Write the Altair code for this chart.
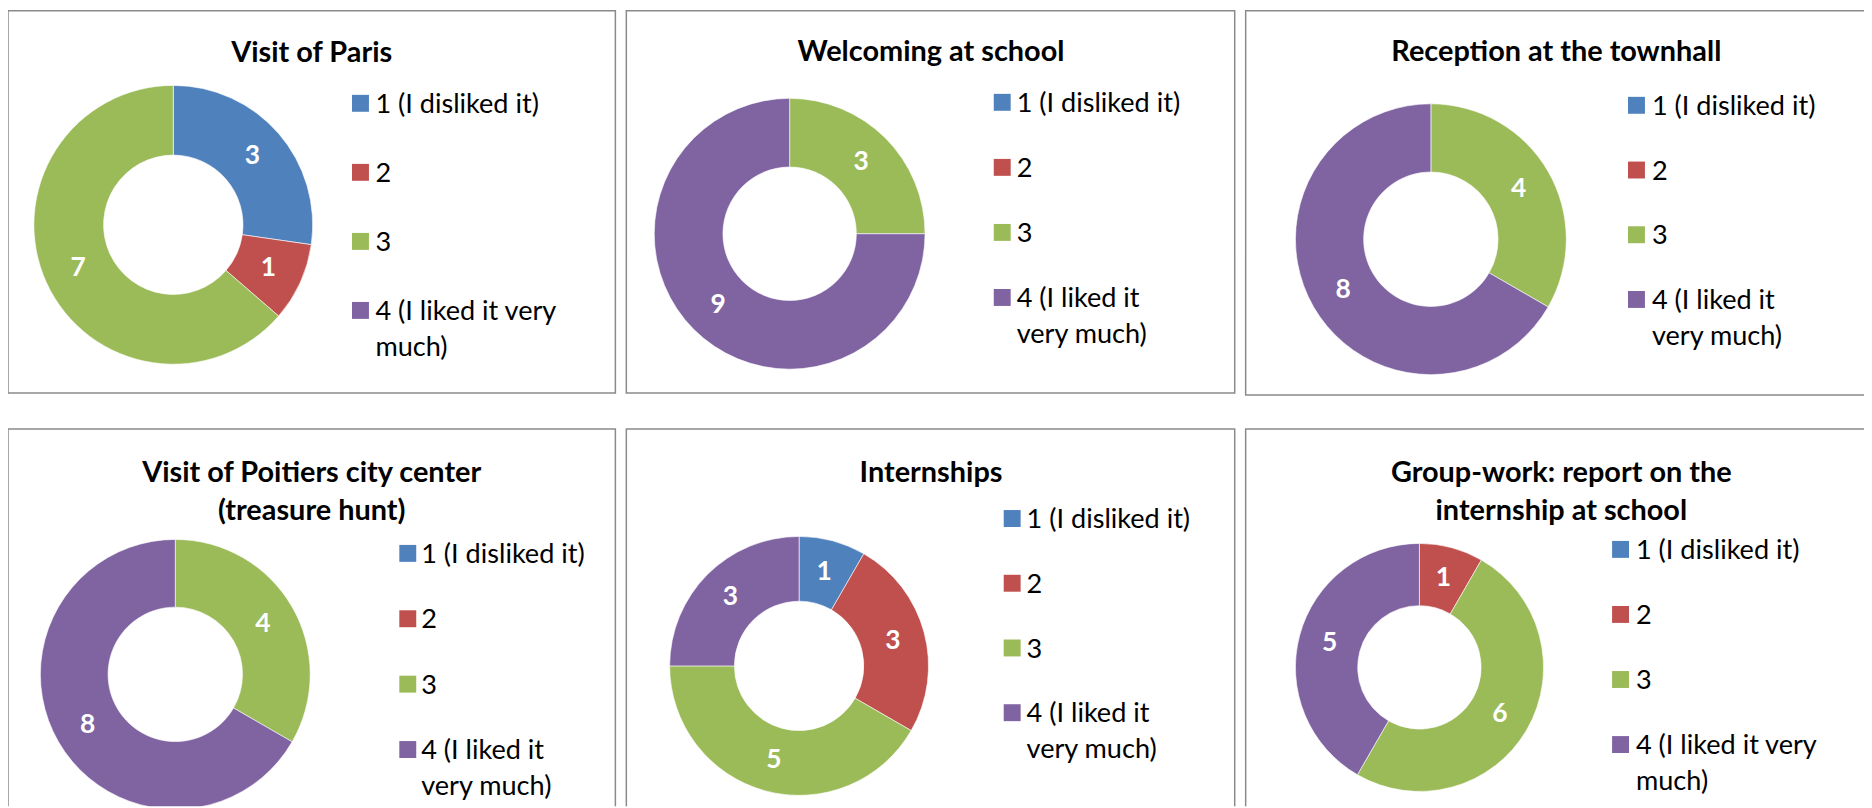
import altair as alt
import pandas as pd

# ---------------- data ----------------
categories = ["1 (I disliked it)", "2", "3", "4 (I liked it very much)"]
colors = ["#4F81BD", "#C0504D", "#9BBB59", "#8064A2"]

panel_titles = [
    "Visit of Paris",
    "Welcoming at school",
    "Reception at the townhall",
    "Visit of Poitiers city center\n(treasure hunt)",
    "Internships",
    "Group-work: report on the\ninternship at school",
]

visit_of_paris = [3, 1, 7, 0]
welcoming_at_school = [0, 0, 3, 9]
reception_at_townhall = [0, 0, 4, 8]
visit_of_poitiers = [0, 0, 4, 8]
internships = [1, 3, 5, 3]
group_work_report = [0, 1, 6, 5]

panel_values = [visit_of_paris, welcoming_at_school, reception_at_townhall,
                visit_of_poitiers, internships, group_work_report]

legend_wrap_wide = ["1 (I disliked it)", "2", "3", "4 (I liked it very\nmuch)"]
legend_wrap_narrow = ["1 (I disliked it)", "2", "3", "4 (I liked it\nvery much)"]

# ---------------- layout (pixels, chart coordinates) ----------------
layouts = [
    dict(box=(0, 610, 1, 385), c=(166, 216), R=140, r=70, sq=354, tx=369, ly=(94, 302), tt=(305, 42), legend=legend_wrap_wide),
    dict(box=(621, 1232, 1, 385), c=(785, 225), R=136, r=67, sq=998.5, tx=1013, ly=(93, 289), tt=(927, 41), legend=legend_wrap_narrow),
    dict(box=(1243, 1950, 1, 387), c=(1429, 230.5), R=136, r=67.5, sq=1635.5, tx=1651, ly=(96, 291), tt=(1555, 41), legend=legend_wrap_narrow),
    dict(box=(0, 610, 421, 950), c=(168, 667.5), R=135.5, r=67.5, sq=401.5, tx=415, ly=(546, 743), tt=(305, 464), legend=legend_wrap_narrow),
    dict(box=(621, 1232, 421, 950), c=(794.5, 659), R=130, r=65, sq=1008.5, tx=1023, ly=(511, 706), tt=(927, 464), legend=legend_wrap_narrow),
    dict(box=(1243, 1950, 421, 950), c=(1417.5, 660.5), R=124.5, r=62, sq=1619.5, tx=1635, ly=(542, 738), tt=(1560, 464), legend=legend_wrap_wide),
]

FONT = "Lato"
color_enc = alt.Color("category:N", scale=alt.Scale(domain=categories, range=colors), legend=None)


def panel(i, lay):
    df = pd.DataFrame({
        "category": categories,
        "idx": list(range(len(categories))),
        "value": panel_values[i],
        "legend": lay["legend"],
    })
    tdf = pd.DataFrame({"title": [panel_titles[i]]})
    cx, cy = lay["c"]
    R, r = lay["R"], lay["r"]
    x0, x1, y0, y1 = lay["box"]

    border = alt.Chart(tdf).mark_rect(
        fillOpacity=0, stroke="#8a8a8a", strokeWidth=1.5, clip=True
    ).encode(x=alt.value(x0), x2=alt.value(x1), y=alt.value(y0), y2=alt.value(y1))

    base = alt.Chart(df).transform_filter("datum.value > 0").encode(
        theta=alt.Theta("value:Q", stack=True),
        order=alt.Order("idx:Q"),
    )
    arcs = base.mark_arc(outerRadius=R, innerRadius=r, stroke="white", strokeWidth=0.6, clip=True).encode(
        x=alt.value(cx), y=alt.value(cy), color=color_enc
    )
    labels = base.mark_text(radius=(R + r) / 2, font=FONT, fontWeight="bold", fontSize=26.5,
                            color="white", baseline="middle").encode(
        x=alt.value(cx), y=alt.value(cy), text=alt.Text("value:Q")
    )

    ysc = alt.Scale(domain=[0, len(categories) - 1], range=list(lay["ly"]))
    squares = alt.Chart(df).mark_square(size=289, opacity=1).encode(
        x=alt.value(lay["sq"]), y=alt.Y("idx:Q", scale=ysc, axis=None), color=color_enc
    )
    leg_text = alt.Chart(df).mark_text(
        align="left", baseline="alphabetic", dy=9.6, font=FONT, fontSize=27.2,
        lineBreak="\n", lineHeight=36, color="black"
    ).encode(x=alt.value(lay["tx"]), y=alt.Y("idx:Q", scale=ysc, axis=None), text="legend:N")

    title = alt.Chart(tdf).mark_text(
        align="center", baseline="alphabetic", dy=10.4, font=FONT, fontWeight="bold",
        fontSize=29, lineBreak="\n", lineHeight=38, color="black"
    ).encode(x=alt.value(lay["tt"][0]), y=alt.value(lay["tt"][1]), text="title:N")

    return alt.layer(border, arcs, labels, squares, leg_text, title)


panels = [panel(i, lay) for i, lay in enumerate(layouts)]

chart = alt.layer(*panels).resolve_scale(
    theta="independent", y="independent"
).properties(
    width=1864, height=800, padding=0,
    autosize=alt.AutoSizeParams(type="none"),
).configure_view(strokeWidth=0)

chart.save("out.html", embed_options={"renderer": "svg", "actions": False})
